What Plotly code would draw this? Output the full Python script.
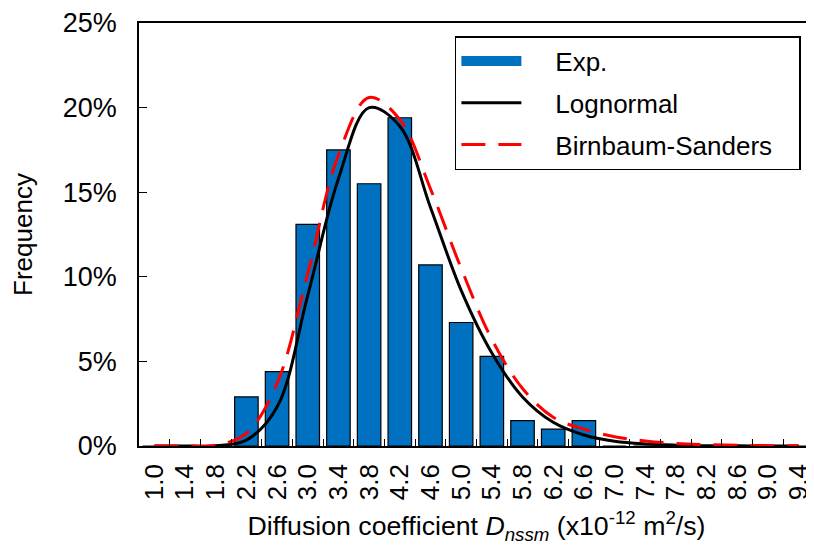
import plotly.graph_objects as go

# x categories (bin centres, x10^-12 m2/s)
categories = ['1.0', '1.4', '1.8', '2.2', '2.6', '3.0', '3.4', '3.8', '4.2', '4.6', '5.0',
              '5.4', '5.8', '6.2', '6.6', '7.0', '7.4', '7.8', '8.2', '8.6', '9.0', '9.4']

# experimental frequency (fraction)
exp_freq = [0, 0, 0, 0.029, 0.044, 0.131, 0.175, 0.155, 0.194, 0.107, 0.073,
            0.053, 0.015, 0.010, 0.015, 0, 0, 0, 0, 0, 0, 0]

# fitted curves
lognormal = [0, 0, 0.0002, 0.0035, 0.023, 0.089, 0.158, 0.200, 0.189, 0.141, 0.092,
             0.055, 0.029, 0.014, 0.0065, 0.0028, 0.0012, 0.0005, 0.0002, 0.0001, 0, 0]
birnbaum = [0, 0, 0.0005, 0.0075, 0.037, 0.102, 0.172, 0.206, 0.193, 0.152, 0.105,
            0.063, 0.034, 0.017, 0.010, 0.0055, 0.003, 0.0015, 0.0008, 0.0004, 0.0002, 0.0001]

y_ticks = [0, 0.05, 0.10, 0.15, 0.20, 0.25]

font_family = "Arial, Liberation Sans, sans-serif"
pad_l = '\u00a0' * 4
pad_r = '\u00a0' * 3

fig = go.Figure()
fig.add_trace(go.Bar(
    x=categories, y=exp_freq, name='Exp.', showlegend=False,
    marker=dict(color='#0070C0', line=dict(color='black', width=1.2)),
))
# legend-only entry so the bar key is drawn as a wide block
fig.add_trace(go.Scatter(
    x=[None], y=[None], name=pad_l + 'Exp.' + pad_r, mode='lines',
    line=dict(color='#0070C0', width=14), legendgroup='a'
))
fig.add_trace(go.Scatter(
    x=categories, y=lognormal, name=pad_l + 'Lognormal' + pad_r, mode='lines',
    line=dict(color='black', width=3, shape='spline', smoothing=1),
    legendgroup='b'
))
fig.add_trace(go.Scatter(
    x=categories, y=birnbaum, name=pad_l + 'Birnbaum-Sanders' + pad_r, mode='lines',
    line=dict(color='#FF0000', width=3, shape='spline', smoothing=1, dash='24px,13px'),
    legendgroup='c'
))

# page body has an 8px margin, so the figure is 8px smaller each way
fig.update_layout(
    width=806, height=537,
    margin=dict(l=131, r=0, t=13, b=99),
    plot_bgcolor='white', paper_bgcolor='white',
    font=dict(family=font_family, size=26, color='black'),
    bargap=0.234,
    showlegend=True,
    legend=dict(
        x=0.468, y=0.969, xanchor='left', yanchor='top',
        bgcolor='white', bordercolor='black', borderwidth=1.5,
        font=dict(size=26), traceorder='grouped', tracegroupgap=5,
        itemwidth=60
    ),
    xaxis=dict(
        type='category', range=[-0.5, 21.5],
        tickmode='array', tickvals=categories, ticktext=categories,
        showline=True, linecolor='black', linewidth=1.5, mirror=True,
        ticks='inside', ticklen=7, tickcolor='black', tickwidth=1.2,
        tickson='boundaries', tickangle=-90, ticklabelstandoff=6,
        showgrid=False, zeroline=False,
        title=dict(text='Diffusion coefficient <i>D</i><sub><i>nssm</i></sub> (x10<sup>-12</sup> m<sup>2</sup>/s)',
                   standoff=17, font=dict(size=26.7))
    ),
    yaxis=dict(
        range=[0, 0.25], tickmode='array', tickvals=y_ticks, tickformat='.0%',
        showline=True, linecolor='black', linewidth=1.5,
        ticks='inside', ticklen=8, tickcolor='black', tickwidth=1.2,
        ticklabelstandoff=15, tickfont=dict(size=27), ticklabeloverflow='allow',
        showgrid=False, zeroline=False,
        title=dict(text='Frequency', standoff=25, font=dict(size=26))
    )
)

fig.write_html("out.html")
